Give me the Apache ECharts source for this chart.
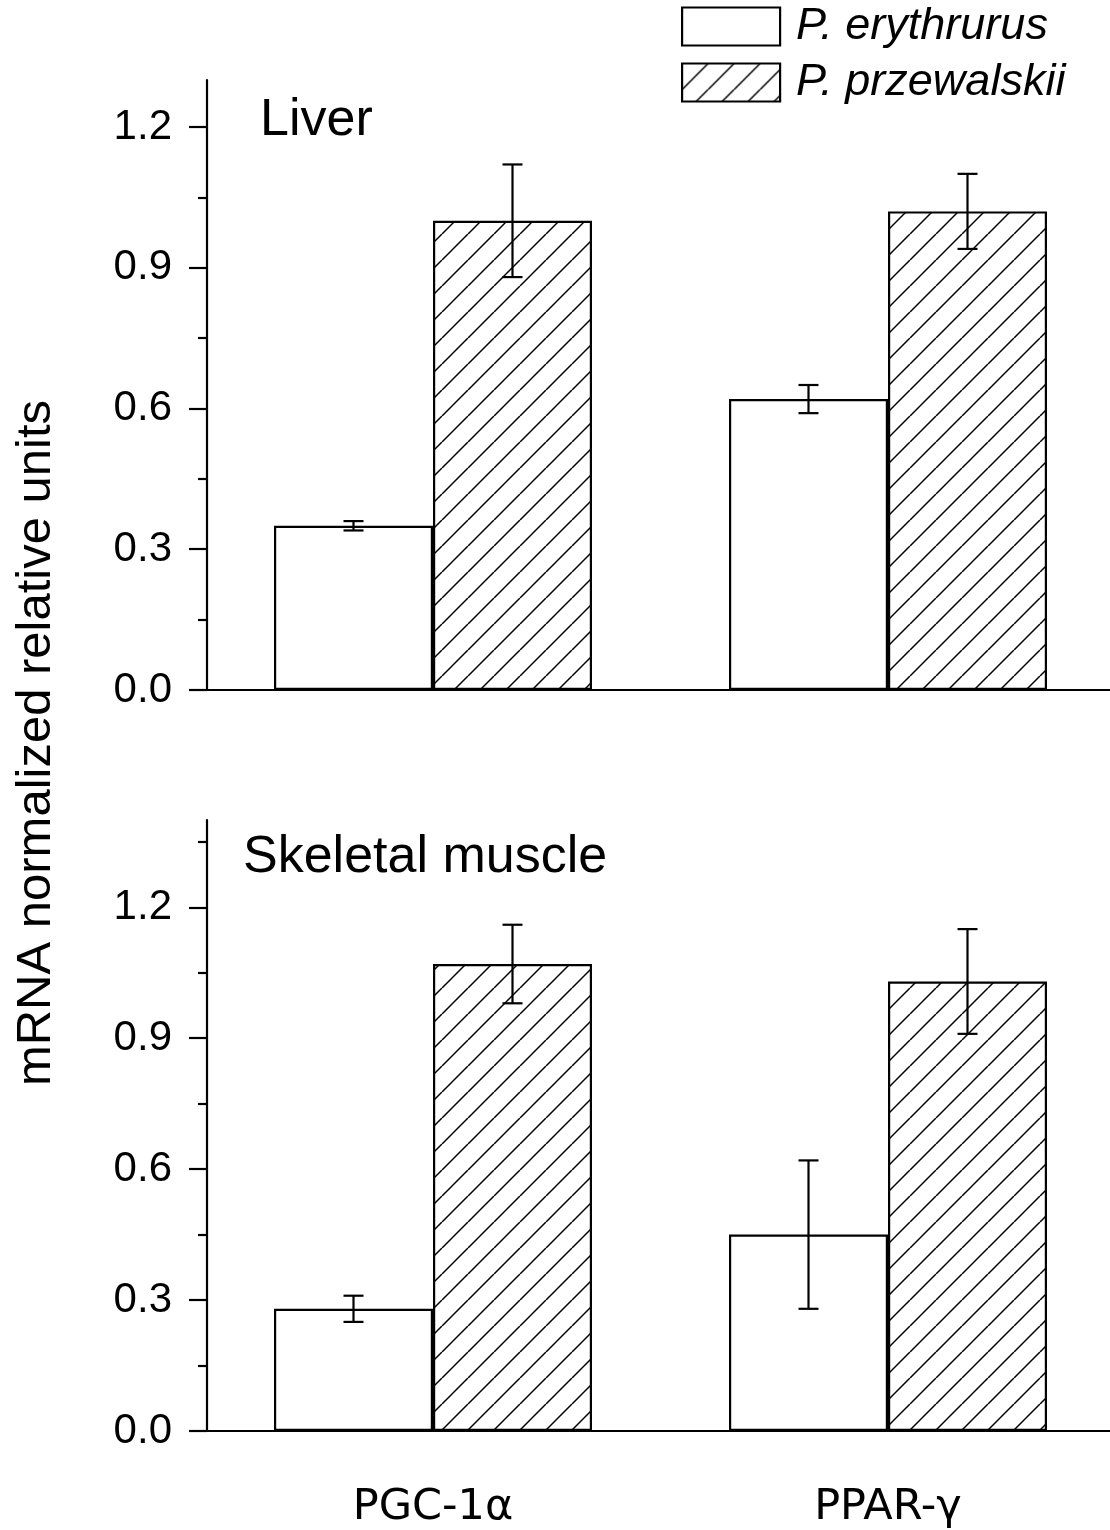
<!DOCTYPE html>
<html>
<head>
<meta charset="utf-8">
<script src="https://cdn.jsdelivr.net/npm/echarts@6/dist/echarts.min.js"></script>
<style>
html,body{margin:0;padding:0;background:#fff;}
#chart{width:1110px;height:1530px;}
</style>
</head>
<body>
<div id="chart"></div>
<script>
// ---- data ----
const categories = ['PGC-1α', 'PPAR-γ'];
const seriesNames = ['P. erythrurus', 'P. przewalskii'];
const panelTitles = ['Liver', 'Skeletal muscle'];
const yAxisName = 'mRNA normalized relative units';

const liverErythrurus = [0.35, 0.62];
const liverPrzewalskii = [1.00, 1.02];
const liverErythrurusErr = [[0.34, 0.36], [0.59, 0.65]];
const liverPrzewalskiiErr = [[0.88, 1.12], [0.94, 1.10]];

const muscleErythrurus = [0.28, 0.45];
const musclePrzewalskii = [1.07, 1.03];
const muscleErythrurusErr = [[0.25, 0.31], [0.28, 0.62]];
const musclePrzewalskiiErr = [[0.98, 1.16], [0.91, 1.15]];

const majorTicks = [0, 0.3, 0.6, 0.9, 1.2];
const minorTicksLiver = [0.15, 0.45, 0.75, 1.05];
const minorTicksMuscle = [0.15, 0.45, 0.75, 1.05, 1.35];
const yMaxLiver = 1.3;
const yMaxMuscle = 1.4;

// ---- styling ----
const BAR_W = 159;
const CAP_HALF = 10;
const LW = 2.2;

function makeHatch() {
  const s = 26;
  const c = document.createElement('canvas');
  c.width = s; c.height = s;
  const g = c.getContext('2d');
  g.fillStyle = '#fff';
  g.fillRect(0, 0, s, s);
  g.strokeStyle = '#000';
  g.lineWidth = 1.5;
  [-s, 0, s].forEach(k => {
    g.beginPath();
    g.moveTo(k, s);
    g.lineTo(k + s, 0);
    g.stroke();
  });
  return c;
}
const hatch = { image: makeHatch(), repeat: 'repeat' };

const labelFont = 'Liberation Sans, Arial, sans-serif';

function majorAxis(gridIndex, max) {
  return {
    type: 'value', gridIndex, min: 0, max, interval: 0.3, offset: -1.5,
    axisLine: { show: true, lineStyle: { color: '#000', width: LW } },
    axisTick: { show: true, length: 18, customValues: majorTicks, lineStyle: { color: '#000', width: LW } },
    axisLabel: { customValues: majorTicks, fontFamily: labelFont, fontSize: 42, color: '#000', margin: 35,
      formatter: v => v.toFixed(1) },
    splitLine: { show: false }
  };
}
function minorAxis(gridIndex, max, ticks) {
  return {
    type: 'value', gridIndex, min: 0, max, position: 'left', offset: -1.5,
    axisLine: { show: false },
    axisTick: { show: true, length: 9, customValues: ticks, lineStyle: { color: '#000', width: LW } },
    axisLabel: { show: false },
    splitLine: { show: false }
  };
}
function xAxis(gridIndex, showLabel) {
  return {
    type: 'category', gridIndex, data: categories,
    axisLine: { lineStyle: { color: '#000', width: LW } },
    axisTick: { alignWithLabel: true, length: 19, lineStyle: { color: '#000', width: LW } },
    axisLabel: { show: showLabel, fontFamily: 'DejaVu Sans, sans-serif', fontSize: 43, color: '#000', margin: 55 },
    splitLine: { show: false }
  };
}
function barSeries(name, xi, yi, data, fill) {
  return {
    type: 'bar', name, xAxisIndex: xi, yAxisIndex: yi, data,
    barWidth: BAR_W, barGap: '0%',
    itemStyle: { color: fill, borderColor: '#000', borderWidth: LW },
    emphasis: { disabled: true }, silent: true
  };
}
function errSeries(xi, yi, errs, side) {
  return {
    type: 'custom', xAxisIndex: xi, yAxisIndex: yi, z: 5, silent: true,
    data: errs.map((d, i) => [i, d[0], d[1]]),
    renderItem: (params, api) => {
      const c = api.value(0);
      const lo = api.coord([c, api.value(1)]);
      const hi = api.coord([c, api.value(2)]);
      const x = lo[0] + side * BAR_W / 2;
      const st = { stroke: '#000', lineWidth: LW };
      return {
        type: 'group',
        children: [
          { type: 'line', shape: { x1: x, y1: lo[1], x2: x, y2: hi[1] }, style: st },
          { type: 'line', shape: { x1: x - CAP_HALF, y1: lo[1], x2: x + CAP_HALF, y2: lo[1] }, style: st },
          { type: 'line', shape: { x1: x - CAP_HALF, y1: hi[1], x2: x + CAP_HALF, y2: hi[1] }, style: st }
        ]
      };
    }
  };
}

const chart = echarts.init(document.getElementById('chart'), null, { renderer: 'canvas' });
chart.setOption({
  backgroundColor: '#fff',
  animation: false,
  grid: [
    { left: 205.5, top: 80, width: 910, height: 610, outerBoundsMode: 'none' },
    { left: 205.5, top: 820, width: 910, height: 611, outerBoundsMode: 'none' }
  ],
  title: [
    { text: panelTitles[0], left: 255, top: 90, textStyle: { fontFamily: labelFont, fontSize: 52, fontWeight: 'normal', color: '#000' } },
    { text: panelTitles[1], left: 238, top: 827, textStyle: { fontFamily: labelFont, fontSize: 52, fontWeight: 'normal', color: '#000' } }
  ],
  legend: {
    orient: 'vertical', left: 681, top: 4, padding: 0,
    itemWidth: 98, itemHeight: 38, itemGap: 11,
    icon: 'rect', selectedMode: false,
    data: seriesNames,
    itemStyle: { borderColor: '#000', borderWidth: LW },
    textStyle: { fontFamily: labelFont, fontStyle: 'italic', fontSize: 45, color: '#000', padding: [0, 0, 0, 11] }
  },
  graphic: [{
    type: 'text', x: 36, y: 743, rotation: Math.PI / 2,
    style: { text: yAxisName, fontFamily: labelFont, fontSize: 49, fill: '#000',
      align: 'center', verticalAlign: 'middle', textAlign: 'center', textVerticalAlign: 'middle' }
  }],
  xAxis: [xAxis(0, false), xAxis(1, true)],
  yAxis: [
    majorAxis(0, yMaxLiver), minorAxis(0, yMaxLiver, minorTicksLiver),
    majorAxis(1, yMaxMuscle), minorAxis(1, yMaxMuscle, minorTicksMuscle)
  ],
  series: [
    barSeries(seriesNames[0], 0, 0, liverErythrurus, '#fff'),
    barSeries(seriesNames[1], 0, 0, liverPrzewalskii, hatch),
    barSeries(seriesNames[0], 1, 2, muscleErythrurus, '#fff'),
    barSeries(seriesNames[1], 1, 2, musclePrzewalskii, hatch),
    errSeries(0, 0, liverErythrurusErr, -1),
    errSeries(0, 0, liverPrzewalskiiErr, 1),
    errSeries(1, 2, muscleErythrurusErr, -1),
    errSeries(1, 2, musclePrzewalskiiErr, 1)
  ]
});
</script>
</body>
</html>
